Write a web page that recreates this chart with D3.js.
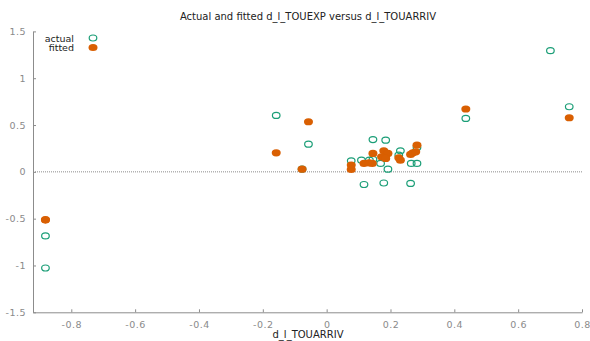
<!DOCTYPE html>
<html><head><meta charset="utf-8">
<script src="https://cdn.jsdelivr.net/npm/d3@7"></script>
<style>body{margin:0;background:#fff}svg{display:block}</style>
</head><body>
<svg id="c" width="590" height="341"></svg>
<script>
const title = "Actual and fitted d_l_TOUEXP versus d_l_TOUARRIV";
const xLabel = "d_l_TOUARRIV";
const seriesNames = ["actual", "fitted"];
const xTicks = [-0.8, -0.6, -0.4, -0.2, 0, 0.2, 0.4, 0.6, 0.8];
const yTicks = [-1.5, -1, -0.5, 0, 0.5, 1, 1.5];

const actualX = [-0.881, -0.881, -0.158, -0.057, -0.077, 0.077, 0.117, 0.109, 0.134, 0.145, 0.145, 0.185, 0.169, 0.192, 0.179, 0.231, 0.226, 0.283, 0.265, 0.283, 0.263, 0.436, 0.701, 0.760];
const actualY = [-1.027, -0.684, 0.603, 0.296, 0.030, 0.118, -0.135, 0.125, 0.125, 0.133, 0.345, 0.338, 0.090, 0.029, -0.119, 0.225, 0.178, 0.261, 0.090, 0.090, -0.124, 0.571, 1.294, 0.695];

const fittedX = [-0.881, -0.881, -0.158, -0.057, -0.077, 0.077, 0.077, 0.117, 0.133, 0.143, 0.145, 0.179, 0.192, 0.172, 0.185, 0.226, 0.231, 0.263, 0.270, 0.283, 0.279, 0.436, 0.760];
const fittedY = [-0.510, -0.515, 0.203, 0.535, 0.029, 0.072, 0.026, 0.090, 0.096, 0.090, 0.197, 0.225, 0.197, 0.161, 0.143, 0.150, 0.125, 0.186, 0.204, 0.285, 0.214, 0.671, 0.578];

const colActual = "#1b9e77", colFitted = "#d95f02";
const svg = d3.select("#c");
const font = "DejaVu Sans, sans-serif";
const x = d3.scaleLinear().domain([-0.92, 0.8]).range([33, 582]);
const y = d3.scaleLinear().domain([-1.5, 1.5]).range([312.3, 31.4]);

// axes
const xAxis = d3.axisBottom(x).tickValues(xTicks).tickSizeInner(-3).tickSizeOuter(0).tickPadding(9)
  .tickFormat(d => String(d));
const gx = svg.append("g").attr("transform", `translate(0,${y(-1.5)})`).call(xAxis);
const yAxis = d3.axisLeft(y).tickValues(yTicks).tickSizeInner(-3).tickSizeOuter(0).tickPadding(7)
  .tickFormat(d => String(d));
const gy = svg.append("g").attr("transform", `translate(${x(-0.92)},0)`).call(yAxis);
[gx, gy].forEach(g => {
  g.select(".domain").attr("stroke", "#8c8c8c").attr("stroke-width", 1);
  g.selectAll(".tick line").attr("stroke", "#8c8c8c");
  g.selectAll(".tick text").attr("fill", "#8a8a8a").attr("font-family", font)
    .attr("font-size", 9.5).attr("letter-spacing", 0.5);
});

// zero line
svg.append("line").attr("x1", x(-0.92)).attr("x2", x(0.8)).attr("y1", y(0)).attr("y2", y(0))
  .attr("stroke", "#8c8c8c").attr("stroke-width", 1).attr("stroke-dasharray", "1,1");

// points
const actual = actualX.map((v, i) => [v, actualY[i]]);
const fitted = fittedX.map((v, i) => [v, fittedY[i]]);
svg.append("g").selectAll("ellipse").data(actual).join("ellipse")
  .attr("cx", d => x(d[0])).attr("cy", d => y(d[1])).attr("rx", 3.8).attr("ry", 3.0)
  .attr("fill", "none").attr("stroke", colActual).attr("stroke-width", 1.2);
svg.append("g").selectAll("ellipse").data(fitted).join("ellipse")
  .attr("cx", d => x(d[0])).attr("cy", d => y(d[1])).attr("rx", 4.5).attr("ry", 3.6)
  .attr("fill", colFitted);

// legend
const leg = svg.append("g");
seriesNames.forEach((n, i) => {
  const ly = 38 + i * 9.5;
  leg.append("text").attr("x", 74).attr("y", ly + 3.5).attr("text-anchor", "end")
    .attr("font-family", font).attr("font-size", 9.5).attr("fill", "#222").text(n);
  const e = leg.append("ellipse").attr("cx", 93).attr("cy", ly);
  if (i === 0) e.attr("rx", 3.8).attr("ry", 3.0).attr("fill", "none").attr("stroke", colActual).attr("stroke-width", 1.2);
  else e.attr("rx", 4.5).attr("ry", 3.6).attr("fill", colFitted);
});

// title and label
svg.append("text").attr("x", 308).attr("y", 20).attr("text-anchor", "middle")
  .attr("font-family", font).attr("font-size", 10).attr("fill", "#222").text(title);
svg.append("text").attr("x", 308).attr("y", 338).attr("text-anchor", "middle")
  .attr("font-family", font).attr("font-size", 10).attr("fill", "#222").text(xLabel);
</script>
</body></html>
